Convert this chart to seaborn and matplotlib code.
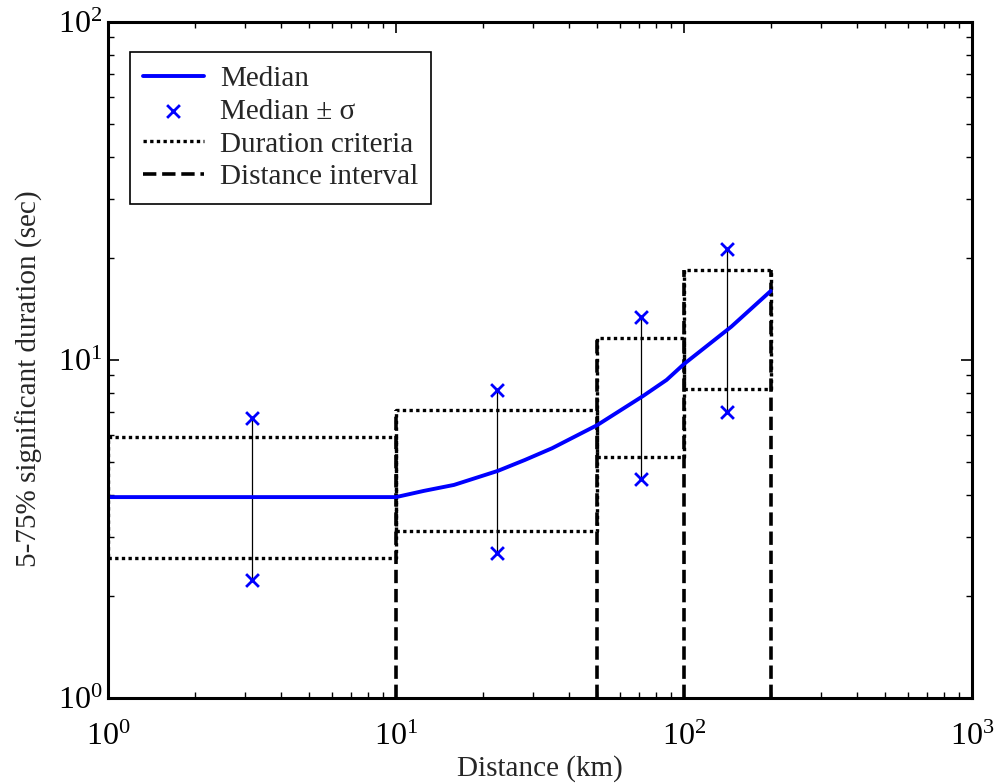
import matplotlib
matplotlib.use("Agg")
import matplotlib.pyplot as plt
import seaborn as sns
import pandas as pd
from matplotlib.ticker import LogLocator, NullFormatter

# Median duration vs. distance
median_dist = [1, 10, 12.5, 15.9, 22.6, 28, 34.8, 50, 72, 87, 100, 146, 200]
median_dur = [3.93, 3.93, 4.10, 4.27, 4.70, 5.06, 5.48, 6.42, 7.82, 8.73, 9.73, 12.55, 16.0]

# Median +/- sigma at representative distances
sigma_dist = [3.16, 22.4, 70.7, 141.4]
sigma_upper = [6.74, 8.15, 13.4, 21.3]
sigma_lower = [2.23, 2.69, 4.44, 7.03]

# Distance intervals and duration criteria per interval
interval_lo = [1, 10, 50, 100]
interval_hi = [10, 50, 100, 200]
crit_lower = [2.60, 3.12, 5.16, 8.21]
crit_upper = [5.92, 7.11, 11.6, 18.5]

sns.set_style("ticks")
plt.rcParams["font.family"] = ["Liberation Serif", "DejaVu Serif"]
plt.rcParams["mathtext.fontset"] = "stix"

fig = plt.figure(figsize=(9.98, 7.84), dpi=100)
ax = fig.add_axes([108 / 998, 1 - 698 / 784, 864 / 998, 676 / 784])

dot_style = dict(color="black", lw=2.4, linestyle=(0, (1, 1)))
dash_style = dict(color="black", lw=2.6, linestyle=(0, (3.7, 1.6)))

# Duration-criteria boxes
for i, (lo, hi, cl, cu) in enumerate(zip(interval_lo, interval_hi, crit_lower, crit_upper)):
    ax.plot([lo, hi, hi, lo, lo], [cl, cl, cu, cu, cl], **dot_style,
            label="Duration criteria" if i == 0 else None)

# Distance-interval boundaries
edges = sorted(set(interval_lo + interval_hi))
for j, x in enumerate(edges):
    tops = [cu for lo, hi, cu in zip(interval_lo, interval_hi, crit_upper) if x in (lo, hi)]
    ax.plot([x, x], [1, max(tops)], **dash_style,
            label="Distance interval" if j == 0 else None)

# Sigma ranges
for x, lo, hi in zip(sigma_dist, sigma_lower, sigma_upper):
    ax.plot([x, x], [lo, hi], color="black", lw=0.9)

med_df = pd.DataFrame({"dist": median_dist, "dur": median_dur})
sns.lineplot(data=med_df, x="dist", y="dur", ax=ax, color="blue", lw=2.8,
             label="Median", zorder=5, sort=False)

sig_df = pd.DataFrame({"dist": sigma_dist * 2, "dur": sigma_upper + sigma_lower})
sns.scatterplot(data=sig_df, x="dist", y="dur", ax=ax, marker="x", color="blue",
                s=85, linewidth=2, label="Median ± σ", zorder=6)

ax.set_xscale("log")
ax.set_yscale("log")
ax.set_xlim(1, 1000)
ax.set_ylim(1, 100)

ax.xaxis.set_major_locator(LogLocator(base=10, numticks=10))
ax.yaxis.set_major_locator(LogLocator(base=10, numticks=10))
ax.xaxis.set_minor_locator(LogLocator(base=10, subs=range(2, 10), numticks=20))
ax.yaxis.set_minor_locator(LogLocator(base=10, subs=range(2, 10), numticks=20))
ax.xaxis.set_minor_formatter(NullFormatter())
ax.yaxis.set_minor_formatter(NullFormatter())

for side in ax.spines.values():
    side.set_linewidth(2.2)
    side.set_color("black")
    side.set_zorder(10)
ax.tick_params(which="both", direction="in", top=True, right=True, colors="black")
ax.tick_params(which="major", length=8, width=1.2, labelsize=23)
ax.tick_params(which="minor", length=4, width=1.0)
ax.tick_params(axis="x", which="major", pad=18)
ax.tick_params(axis="y", which="major", pad=4)

ax.set_xlabel("Distance (km)", fontsize=21, labelpad=2)
ax.set_ylabel("5-75% significant duration (sec)", fontsize=21)
ax.yaxis.set_label_coords(-0.075, 0.473)

handles, labels = ax.get_legend_handles_labels()
order = ["Median", "Median ± σ", "Duration criteria", "Distance interval"]
hmap = dict(zip(labels, handles))
leg = ax.legend([hmap[k] for k in order], order,
                loc="upper left", bbox_to_anchor=(0.025, 0.955), fontsize=21, frameon=True,
                fancybox=False, edgecolor="black", framealpha=1, borderpad=0.45,
                labelspacing=0.22, handlelength=2.1, handletextpad=0.55, borderaxespad=0)
leg.get_frame().set_linewidth(1.2)

fig.savefig("out.png", dpi=100)
